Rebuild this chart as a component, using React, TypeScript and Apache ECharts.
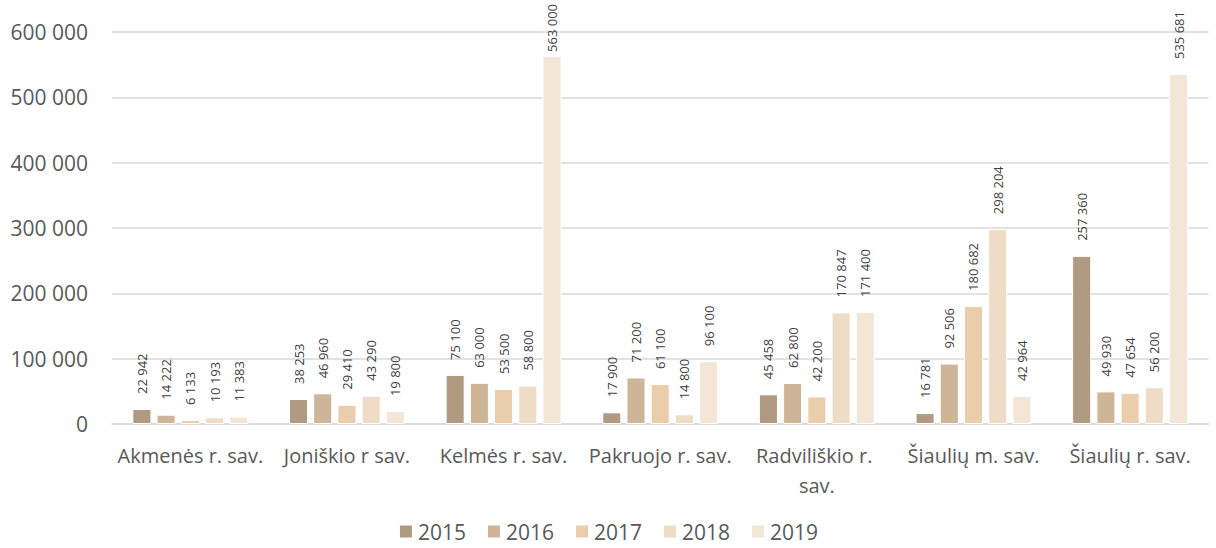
import React, { useEffect, useRef } from "react";
import * as echarts from "echarts";

const categories = [
  "Akmenės r. sav.",
  "Joniškio r sav.",
  "Kelmės r. sav.",
  "Pakruojo r. sav.",
  "Radviliškio r. sav.",
  "Šiaulių m. sav.",
  "Šiaulių r. sav.",
];
const years = ["2015", "2016", "2017", "2018", "2019"];
const v2015 = [22942, 38253, 75100, 17900, 45458, 16781, 257360];
const v2016 = [14222, 46960, 63000, 71200, 62800, 92506, 49930];
const v2017 = [6133, 29410, 53500, 61100, 42200, 180682, 47654];
const v2018 = [10193, 43290, 58800, 14800, 170847, 298204, 56200];
const v2019 = [11383, 19800, 563000, 96100, 171400, 42964, 535681];
const colors = ["#b09b82", "#cfb598", "#eaceab", "#efdcc6", "#f3e6d7"];
const yTicks = [0, 100000, 200000, 300000, 400000, 500000, 600000];

const fmt = (n: number) =>
  String(Math.round(n)).replace(/\B(?=(\d{3})+(?!\d))/g, " ");

const FONT = "'Open Sans', sans-serif";
const LABEL_DIST = 15;
const LABEL_SIZE = 13;

export default function App() {
  const ref = useRef<HTMLDivElement>(null);
  useEffect(() => {
    document.body.style.margin = "0";
    const chart = echarts.init(ref.current!, null, { renderer: "svg" });
    const all = [v2015, v2016, v2017, v2018, v2019];
    const makeSeries = (dists: number[][] | null) =>
      years.map((y, i) => ({
        name: y,
        type: "bar",
        data: all[i].map((v, j) => ({
          value: v,
          label: { distance: dists ? dists[i][j] : LABEL_DIST },
        })),
        barCategoryGap: "26%",
        barGap: "27%",
        itemStyle: { color: colors[i], borderColor: "#ffffff", borderWidth: 1 },
        label: {
          show: true,
          position: "top",
          rotate: 90,
          align: "left",
          verticalAlign: "middle",
          distance: LABEL_DIST,
          fontSize: LABEL_SIZE,
          color: "#404040",
          formatter: (p: any) => fmt(p.value),
        },
      }));
    chart.setOption({
      animation: false,
      textStyle: { fontFamily: FONT },
      grid: { left: 112, right: 6, top: 32, bottom: 124, containLabel: false },
      legend: {
        bottom: 1,
        left: "center",
        itemWidth: 14,
        itemHeight: 14,
        itemGap: 20,
        icon: "rect",
        textStyle: { fontSize: 21, color: "#595959" },
        data: years,
      },
      xAxis: {
        type: "category",
        data: categories,
        axisLine: { lineStyle: { color: "#d9d9d9", width: 1.5 } },
        axisTick: { show: false },
        axisLabel: {
          fontSize: 20,
          color: "#595959",
          margin: 16,
          interval: 0,
          width: 166,
          overflow: "break",
          lineHeight: 30,
        },
      },
      yAxis: {
        type: "value",
        min: yTicks[0],
        max: yTicks[yTicks.length - 1],
        interval: 100000,
        axisLine: { show: false },
        axisTick: { show: false },
        splitLine: { lineStyle: { color: "#d9d9d9", width: 1.5 } },
        axisLabel: {
          fontSize: 21,
          color: "#595959",
          margin: 24,
          formatter: (v: number) => fmt(v),
        },
      },
      series: makeSeries(null),
    });
    // keep labels inside the chart (like the source, which pushes them down)
    const ctx = document.createElement("canvas").getContext("2d")!;
    ctx.font = `${LABEL_SIZE}px ${FONT}`;
    const dists = all.map((arr) =>
      arr.map((v) => {
        const py = chart.convertToPixel({ yAxisIndex: 0 }, v) as number;
        const len = ctx.measureText(fmt(v)).width;
        return Math.min(LABEL_DIST, py - 4 - len);
      })
    );
    chart.setOption({ series: makeSeries(dists) });
    return () => chart.dispose();
  }, []);
  return <div ref={ref} style={{ width: 1216, height: 548 }} />;
}
